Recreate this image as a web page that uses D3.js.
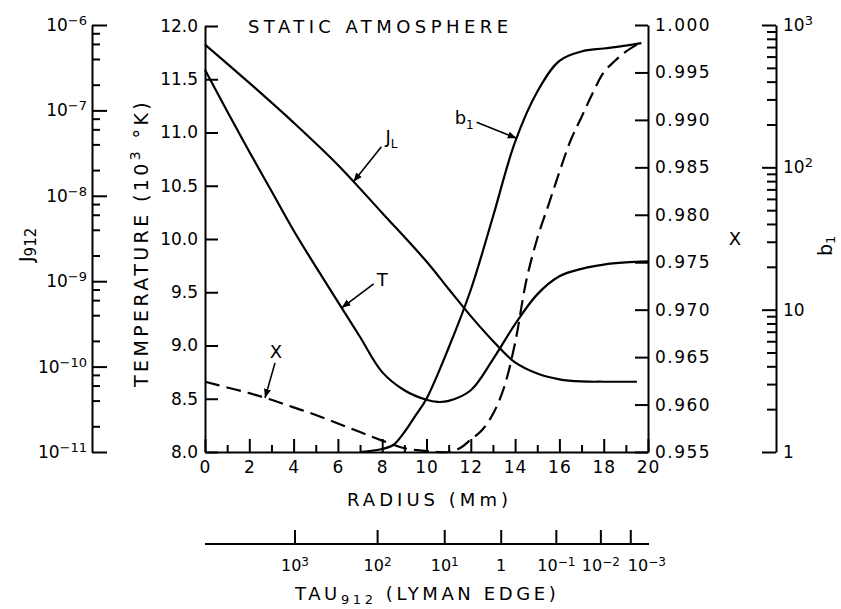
<!DOCTYPE html>
<html>
<head>
<meta charset="utf-8">
<script src="https://cdn.jsdelivr.net/npm/d3@7"></script>
<style>
  body { margin: 0; background: #fff; }
  svg { display: block; font-family: "DejaVu Sans", sans-serif; }
</style>
</head>
<body>
<svg id="chart" width="841" height="609"></svg>
<script>
// temperature T (10^3 K) against radius (Mm)
const tempRadius = [0, 1, 2, 3, 4, 5, 6, 7, 8, 9, 10, 10.5, 11, 12, 13, 14, 15, 16, 17, 18, 19, 20];
const tempValues = [11.59, 11.2, 10.82, 10.45, 10.08, 9.74, 9.41, 9.08, 8.75, 8.58, 8.49, 8.47, 8.48, 8.58, 8.87, 9.2, 9.48, 9.65, 9.72, 9.76, 9.78, 9.79];

// J_L (left log axis, J912)
const jRadius = [0, 2, 4, 6, 8, 10, 11, 12, 13, 14, 15, 16, 17, 18, 19.5];
const jValues = [5.9e-7, 2.1e-7, 7.2e-8, 2.3e-8, 6.3e-9, 1.7e-9, 8.1e-10, 3.9e-10, 2.0e-10, 1.12e-10, 8.3e-11, 7.1e-11, 6.7e-11, 6.65e-11, 6.65e-11];

// b1 departure coefficient (far right log axis)
const bRadius = [7, 8, 8.5, 9, 9.5, 10, 11, 12, 13, 14, 15, 16, 17, 18, 19, 19.7];
const bValues = [1.0, 1.05, 1.12, 1.38, 1.8, 2.37, 5.4, 13.8, 45, 151, 340, 560, 652, 684, 716, 745];

// X ionization fraction (right axis), dashed
const xRadius = [0, 1, 2, 3, 4, 5, 6, 7, 8, 9, 10, 10.5, 11, 11.5, 12, 12.5, 13, 13.5, 14, 14.5, 15, 15.5, 16, 16.5, 17, 17.5, 18, 18.5, 19, 19.7];
const xValues = [0.9624, 0.9618, 0.9612, 0.9605, 0.9597, 0.9589, 0.9580, 0.9571, 0.9562, 0.9554, 0.9551, 0.9550, 0.9550, 0.9554, 0.9563, 0.9573, 0.9590, 0.9618, 0.9665, 0.9730, 0.9775, 0.9810, 0.9845, 0.9878, 0.9903, 0.9928, 0.9950, 0.9962, 0.9972, 0.9982];

// axis ticks
const radiusMajor = [0, 2, 4, 6, 8, 10, 12, 14, 16, 18, 20];
const radiusMinor = [1, 3, 5, 7, 9, 11, 13, 15, 17, 19];
const tempTicks = [8.0, 8.5, 9.0, 9.5, 10.0, 10.5, 11.0, 11.5, 12.0];
const xTicks = [0.955, 0.960, 0.965, 0.970, 0.975, 0.980, 0.985, 0.990, 0.995, 1.000];
const jExponents = [-11, -10, -9, -8, -7, -6];
const jMinorMantissa = [2, 4, 6, 8];
const bExponents = [0, 1, 2, 3];
const bMinorMantissa = [2, 3, 4, 5, 6, 7, 8, 9];

// tau912 scale: tau value and the radius it sits at
const tauExponents = [3, 2, 1, 0, -1, -2, -3];
const tauRadius = [4.04, 7.77, 10.8, 13.35, 15.84, 17.85, 19.2];

const svg = d3.select("#chart");

const x = d3.scaleLinear().domain([0, 20]).range([205, 648]);
const yT = d3.scaleLinear().domain([8, 12]).range([452, 26]);
const yJ = d3.scaleLog().domain([1e-11, 1e-6]).range([452, 25]);
const yX = d3.scaleLinear().domain([0.955, 1.0]).range([452, 25]);
const yB = d3.scaleLog().domain([1, 1000]).range([452, 25]);

const jMajor = jExponents.map(e => Math.pow(10, e));
const jMinor = jExponents.slice(0, -1).flatMap(e => jMinorMantissa.map(m => m * Math.pow(10, e)));
const bMajor = bExponents.map(e => Math.pow(10, e));
const bMinor = bExponents.slice(0, -1).flatMap(e => bMinorMantissa.map(m => m * Math.pow(10, e)));

function styleAxis(g, size) {
  g.attr("font-family", null).attr("font-size", size || 17);
  g.select(".domain").attr("stroke-width", 2);
  g.selectAll(".tick line").attr("stroke-width", 2);
  g.selectAll(".tick text").attr("fill", "#000");
}

// write "10^e" style label into a text node
function powerLabel(text, exp, supSize) {
  text.text(null);
  if (exp === 0) { text.text("1"); return; }
  if (exp === 1 && text.attr("data-plain") === "1") { text.text("10"); return; }
  text.append("tspan").text("10");
  text.append("tspan")
    .attr("font-size", supSize)
    .attr("dy", "-0.45em")
    .text(exp < 0 ? "\u2212" + (-exp) : String(exp));
}

// temperature axis (left, ticks inward)
svg.append("g")
  .attr("transform", "translate(205,0)")
  .call(d3.axisLeft(yT).tickValues(tempTicks).tickFormat(d3.format(".1f"))
    .tickSizeInner(-13).tickSizeOuter(0).tickPadding(7))
  .call(g => styleAxis(g));

// radius axis
svg.append("g")
  .attr("transform", "translate(0,452)")
  .call(d3.axisBottom(x).tickValues(radiusMajor).tickFormat(d3.format("d"))
    .tickSizeInner(-13).tickSizeOuter(0).tickPadding(9))
  .call(g => styleAxis(g))
  .call(g => g.selectAll(".tick text").attr("letter-spacing", 1));

svg.append("g")
  .attr("transform", "translate(0,452)")
  .call(d3.axisBottom(x).tickValues(radiusMinor).tickFormat("").tickSizeInner(-7).tickSizeOuter(0))
  .call(g => styleAxis(g))
  .call(g => g.select(".domain").remove());

// X axis (right side of plot, ticks inward)
svg.append("g")
  .attr("transform", "translate(648,0)")
  .call(d3.axisRight(yX).tickValues(xTicks).tickFormat(d3.format(".3f"))
    .tickSizeInner(-13).tickSizeOuter(0).tickPadding(7))
  .call(g => styleAxis(g))
  .call(g => g.selectAll(".tick text").attr("letter-spacing", 1.5));

// J912 axis (far left, log)
svg.append("g")
  .attr("transform", "translate(92,0)")
  .call(d3.axisLeft(yJ).tickValues(jMajor).tickSizeInner(-15).tickSizeOuter(0).tickPadding(5))
  .call(g => styleAxis(g))
  .call(g => g.selectAll(".tick text").each(function (d) {
    powerLabel(d3.select(this), Math.round(Math.log10(d)), 13);
  }));

svg.append("g")
  .attr("transform", "translate(92,0)")
  .call(d3.axisLeft(yJ).tickValues(jMinor).tickFormat("").tickSizeInner(-8).tickSizeOuter(0))
  .call(g => styleAxis(g))
  .call(g => g.select(".domain").remove());

// b1 axis (far right, log)
svg.append("g")
  .attr("transform", "translate(776,0)")
  .call(d3.axisRight(yB).tickValues(bMajor).tickSizeInner(-14).tickSizeOuter(0).tickPadding(7))
  .call(g => styleAxis(g))
  .call(g => g.selectAll(".tick text").each(function (d) {
    const t = d3.select(this).attr("data-plain", 1);
    powerLabel(t, Math.round(Math.log10(d)), 13);
  }));

svg.append("g")
  .attr("transform", "translate(776,0)")
  .call(d3.axisRight(yB).tickValues(bMinor).tickFormat("").tickSizeInner(-9).tickSizeOuter(0))
  .call(g => styleAxis(g))
  .call(g => g.select(".domain").remove());

// tau912 axis below the radius axis
const tauAxis = svg.append("g")
  .attr("transform", "translate(0,544)")
  .call(d3.axisBottom(x).tickValues(tauRadius).tickSizeInner(-14).tickSizeOuter(0).tickPadding(16))
  .call(g => styleAxis(g, 16))
  .call(g => g.selectAll(".tick text").each(function (d, i) {
    const t = d3.select(this).attr("data-plain", 0);
    const e = tauExponents[i];
    powerLabel(t, e, 12);
    if (i === tauExponents.length - 1) t.attr("text-anchor", "start").attr("x", -3);
  }));
tauAxis.select(".domain").attr("d", `M${x(0)},0H${x(20) + 1}`);

// curves
const curves = [
  { r: tempRadius, v: tempValues, y: yT, dash: null },
  { r: jRadius, v: jValues, y: yJ, dash: null },
  { r: bRadius, v: bValues, y: yB, dash: null },
  { r: xRadius, v: xValues, y: yX, dash: "15,7" }
];

curves.forEach(c => {
  const pts = c.r.map((r, i) => [r, c.v[i]]);
  svg.append("path")
    .datum(pts)
    .attr("fill", "none")
    .attr("stroke", "#000")
    .attr("stroke-width", 2.2)
    .attr("stroke-dasharray", c.dash)
    .attr("d", d3.line().x(d => x(d[0])).y(d => c.y(d[1])).curve(d3.curveCatmullRom.alpha(0.5)));
});

// arrow annotations
svg.append("defs").append("marker")
  .attr("id", "arrow")
  .attr("viewBox", "0 0 10 10")
  .attr("refX", 10).attr("refY", 5)
  .attr("markerWidth", 9).attr("markerHeight", 9)
  .attr("markerUnits", "userSpaceOnUse")
  .attr("orient", "auto")
  .append("path").attr("d", "M0,1L10,5L0,9Z").attr("fill", "#000");

const notes = [
  { curve: 1, r: 6.7, tail: [28, -35], text: [32, -39], label: "J", sub: "L", anchor: "start" },
  { curve: 0, r: 6.17, tail: [32, -24], text: [35, -22], label: "T", sub: null, anchor: "start" },
  { curve: 2, r: 14.07, tail: [-40, -16], text: [-62, -14], label: "b", sub: "1", anchor: "start" },
  { curve: 3, r: 2.71, tail: [10, -35], text: [11, -40], label: "X", sub: null, anchor: "middle" }
];

notes.forEach(n => {
  const c = curves[n.curve];
  const yAt = d3.scaleLinear().domain(c.r).range(c.v.map(v => c.y(v)));
  const tx = x(n.r), ty = yAt(n.r);
  svg.append("line")
    .attr("x1", tx + n.tail[0]).attr("y1", ty + n.tail[1])
    .attr("x2", tx).attr("y2", ty)
    .attr("stroke", "#000").attr("stroke-width", 1.6)
    .attr("marker-end", "url(#arrow)");
  const t = svg.append("text")
    .attr("x", tx + n.text[0]).attr("y", ty + n.text[1])
    .attr("text-anchor", n.anchor)
    .attr("font-size", 18);
  t.append("tspan").text(n.label);
  if (n.sub) t.append("tspan").attr("font-size", 12).attr("dy", 5).text(n.sub);
});

// titles
svg.append("text")
  .attr("x", 248).attr("y", 33)
  .attr("font-size", 18)
  .attr("textLength", 260).attr("lengthAdjust", "spacing")
  .text("STATIC ATMOSPHERE");

svg.append("text")
  .attr("x", 347).attr("y", 506)
  .attr("font-size", 18)
  .attr("textLength", 161).attr("lengthAdjust", "spacing")
  .text("RADIUS (Mm)");

const tauTitle = svg.append("text")
  .attr("x", 295).attr("y", 600)
  .attr("font-size", 18)
  .attr("letter-spacing", 3.6);
tauTitle.append("tspan").text("TAU");
tauTitle.append("tspan").attr("font-size", 13).attr("dy", 4).text("912");
tauTitle.append("tspan").attr("dy", -4).text(" (LYMAN EDGE)");

const tempTitle = svg.append("text")
  .attr("transform", "translate(148,387) rotate(-90)")
  .attr("font-size", 19)
  .attr("letter-spacing", 3.4);
tempTitle.append("tspan").text("TEMPERATURE (10");
tempTitle.append("tspan").attr("font-size", 14).attr("dy", -8).text("3");
tempTitle.append("tspan").attr("dy", 8).text(" \u00B0K)");

const jTitle = svg.append("text")
  .attr("transform", "translate(33,262) rotate(-90)")
  .attr("font-size", 19);
jTitle.append("tspan").text("J");
jTitle.append("tspan").attr("font-size", 15).attr("dy", 3).text("912");

svg.append("text")
  .attr("x", 735).attr("y", 245)
  .attr("text-anchor", "middle")
  .attr("font-size", 18)
  .text("X");

const bTitle = svg.append("text")
  .attr("transform", "translate(832,256) rotate(-90)")
  .attr("font-size", 19);
bTitle.append("tspan").text("b");
bTitle.append("tspan").attr("font-size", 13).attr("dy", 3).text("1");
</script>
</body>
</html>
